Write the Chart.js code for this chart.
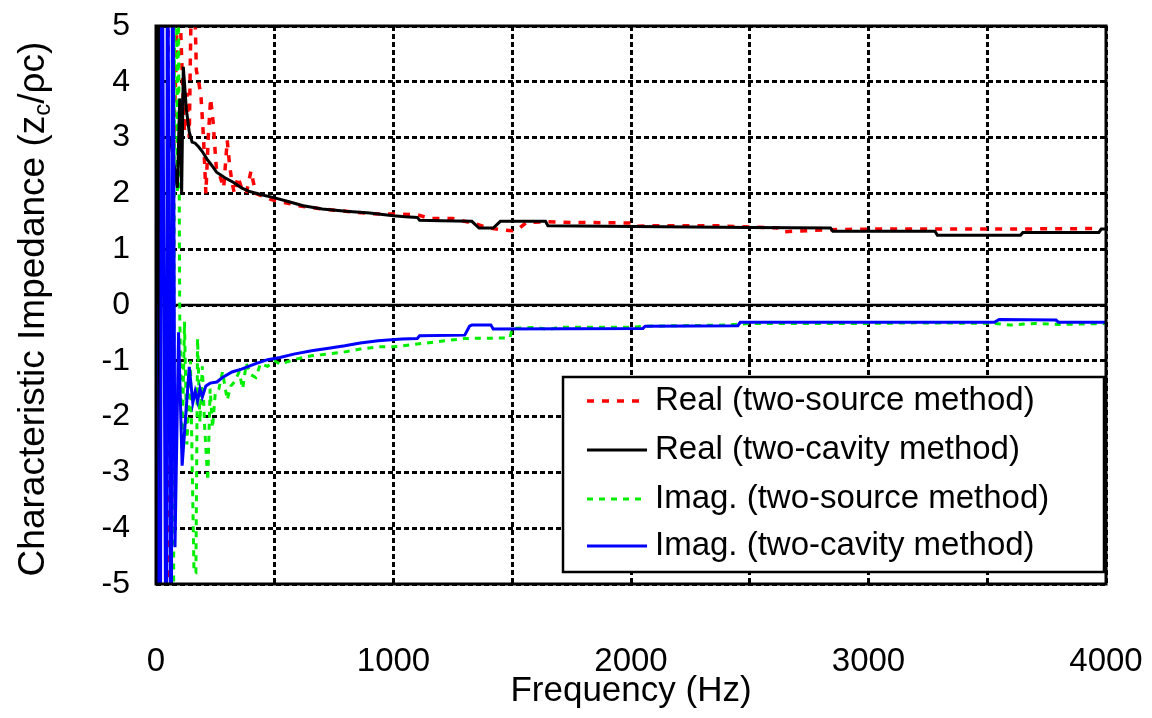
<!DOCTYPE html>
<html>
<head>
<meta charset="utf-8">
<script src="https://cdn.jsdelivr.net/npm/chart.js@4"></script>
<style>
  html, body { margin: 0; padding: 0; background: #fff; }
  #wrap { width: 1152px; height: 718px; position: relative; }
</style>
</head>
<body>
<div id="wrap"><canvas id="zcChart"></canvas></div>
<script>
// Real part, two-source method (red dashed)
const realSrcFreq = [0, 5, 7, 48, 52, 70, 72, 95, 110, 120, 130, 140, 150, 160, 170, 180, 190, 200, 210, 220, 230, 240, 255, 270, 285, 300, 310, 320, 330, 345, 360, 380, 400, 420, 450, 480, 520, 560, 600, 650, 700, 750, 800, 850, 900, 950, 1000, 1100, 1150, 1250, 1350, 1400, 1450, 1500, 1530, 1560, 1650, 1750, 2000, 2020, 2100, 2360, 2620, 2630, 2830, 3000, 3500, 3960];
const realSrcVal = [0.1, 0.3, -6, -6, 6, 6, 2.5, 6, 4.2, 3.1, 3.8, 3.0, 6, 6, 4.2, 4.0, 3.7, 3.0, 2.0, 3.0, 3.7, 3.3, 2.4, 2.3, 2.1, 2.95, 2.5, 2.2, 2.0, 2.3, 2.1, 2.0, 2.4, 2.0, 1.95, 1.9, 1.85, 1.82, 1.78, 1.75, 1.72, 1.7, 1.68, 1.66, 1.64, 1.63, 1.63, 1.62, 1.55, 1.55, 1.45, 1.38, 1.35, 1.33, 1.38, 1.48, 1.49, 1.48, 1.47, 1.41, 1.42, 1.42, 1.38, 1.31, 1.35, 1.36, 1.36, 1.37];

// Real part, two-cavity method (black)
const realCavFreq = [0, 4, 12, 20, 26, 60, 90, 100, 108, 115, 128, 140, 152, 165, 180, 195, 214, 235, 255, 290, 325, 360, 390, 440, 500, 560, 620, 700, 800, 900, 1000, 1050, 1100, 1110, 1200, 1330, 1360, 1420, 1450, 1640, 1650, 2500, 2840, 2850, 3280, 3290, 3640, 3650, 3970, 3980, 4000];
const realCavVal = [0, 9, -9, 9, 3, 3, 2.1, 3.7, 2.0, 4.27, 3.5, 3.1, 2.92, 2.9, 2.83, 2.75, 2.62, 2.5, 2.38, 2.28, 2.2, 2.1, 2.04, 1.98, 1.92, 1.85, 1.78, 1.72, 1.68, 1.65, 1.6, 1.58, 1.57, 1.52, 1.51, 1.5, 1.38, 1.38, 1.5, 1.5, 1.42, 1.39, 1.38, 1.32, 1.32, 1.25, 1.25, 1.3, 1.3, 1.36, 1.36];

// Imaginary part, two-source method (green dashed)
const imagSrcFreq = [0, 6, 8, 74, 78, 86, 90, 94, 100, 110, 120, 130, 145, 160, 168, 175, 185, 195, 205, 218, 228, 238, 250, 265, 280, 300, 315, 330, 350, 365, 380, 400, 420, 440, 470, 500, 522, 580, 655, 720, 795, 860, 935, 1000, 1100, 1200, 1300, 1490, 1500, 1600, 1650, 1700, 2000, 2050, 2400, 2500, 3000, 3200, 3530, 3600, 3700, 3800, 4000];
const imagSrcVal = [0, 0.1, -6, -6, 6, 6, 2.0, 6, -0.2, -2.6, -0.3, -2.5, -1.0, -4.8, -4.8, -0.6, -2.1, -1.1, -2.2, -3.15, -1.5, -2.2, -1.56, -1.5, -1.2, -1.7, -1.45, -1.38, -1.2, -1.5, -1.05, -1.25, -1.3, -1.05, -1.1, -1.0, -1.06, -0.98, -0.91, -0.88, -0.84, -0.79, -0.75, -0.75, -0.7, -0.65, -0.6, -0.59, -0.42, -0.4, -0.44, -0.4, -0.4, -0.38, -0.36, -0.33, -0.33, -0.32, -0.33, -0.36, -0.33, -0.35, -0.33];

// Imaginary part, two-cavity method (blue)
const imagCavFreq = [0, 18, 24, 44, 48, 64, 70, 80, 95, 110, 140, 155, 165, 175, 185, 195, 210, 228, 256, 280, 320, 360, 420, 470, 522, 580, 655, 720, 795, 860, 935, 1035, 1100, 1110, 1300, 1320, 1330, 1410, 1420, 2050, 2060, 2450, 2460, 3530, 3550, 3790, 3800, 4000];
const imagCavVal = [0, -9, 9, -9, 9, -9, 9, -4.34, -0.49, -2.88, -1.11, -1.75, -1.55, -1.72, -1.5, -1.65, -1.45, -1.4, -1.38, -1.3, -1.2, -1.15, -1.05, -0.98, -0.94, -0.88, -0.82, -0.78, -0.73, -0.68, -0.64, -0.61, -0.6, -0.55, -0.54, -0.38, -0.36, -0.36, -0.43, -0.42, -0.38, -0.37, -0.31, -0.31, -0.26, -0.27, -0.31, -0.31];

const seriesLabels = ["Real (two-source method)", "Real (two-cavity method)", "Imag. (two-source method)", "Imag. (two-cavity method)"];
const xTicks = [0, 1000, 2000, 3000, 4000];
const yTicks = [5, 4, 3, 2, 1, 0, -1, -2, -3, -4, -5];

const FONT = "Arial, 'Liberation Sans', sans-serif";

function toPoints(xs, ys) {
  return xs.map((x, i) => ({ x: x, y: ys[i] }));
}

// no label overhang, so the plot box sits where the layout padding says
function noOverhang(s) {
  s.paddingTop = 0;
  s.paddingBottom = 0;
  s.paddingLeft = 0;
  s.paddingRight = 0;
}

// zero line, frame, legend box and y title (with subscript c)
const decorPlugin = {
  id: "decor",
  beforeDatasetsDraw(chart) {
    const { ctx, chartArea: a, scales } = chart;
    const y0 = scales.y.getPixelForValue(0);
    ctx.save();
    ctx.strokeStyle = "#000";
    ctx.lineWidth = 2.5;
    ctx.beginPath();
    ctx.moveTo(a.left, y0);
    ctx.lineTo(a.right, y0);
    ctx.stroke();
    ctx.restore();
  },
  afterDraw(chart) {
    const { ctx, chartArea: a } = chart;
    ctx.save();
    ctx.strokeStyle = "#000";
    ctx.lineWidth = 3;
    ctx.strokeRect(a.left, a.top, a.right - a.left, a.bottom - a.top);

    // legend
    const lx = 563, ly = 377, lw = 541, lh = 195;
    ctx.fillStyle = "#fff";
    ctx.fillRect(lx, ly, lw, lh);
    ctx.lineWidth = 2.5;
    ctx.strokeRect(lx, ly, lw, lh);
    const rows = [401, 450, 499, 546];
    chart.data.datasets.forEach((ds, i) => {
      const ry = rows[i];
      ctx.strokeStyle = ds.borderColor;
      ctx.lineWidth = ds.borderWidth;
      ctx.setLineDash(ds.borderDash || []);
      ctx.beginPath();
      ctx.moveTo(587, ry);
      ctx.lineTo(647, ry);
      ctx.stroke();
      ctx.setLineDash([]);
      ctx.fillStyle = "#000";
      ctx.font = "33px " + FONT;
      ctx.textBaseline = "middle";
      ctx.textAlign = "left";
      ctx.fillText(ds.label, 655, ry);
    });

    // y axis title
    ctx.translate(34, 309);
    ctx.rotate(-Math.PI / 2);
    ctx.fillStyle = "#000";
    ctx.textBaseline = "middle";
    ctx.textAlign = "left";
    const big = "37px " + FONT, small = "24px " + FONT;
    const p1 = "Characteristic Impedance (z", p2 = "c", p3 = "/\u03C1c)";
    ctx.font = big;
    const w1 = ctx.measureText(p1).width, w3 = ctx.measureText(p3).width;
    ctx.font = small;
    const w2 = ctx.measureText(p2).width;
    let x = -(w1 + w2 + w3) / 2;
    ctx.font = big;
    ctx.fillText(p1, x, 0);
    x += w1;
    ctx.font = small;
    ctx.fillText(p2, x, 9);
    x += w2;
    ctx.font = big;
    ctx.fillText(p3, x, 0);
    ctx.restore();
  }
};

const ctx = document.getElementById("zcChart").getContext("2d");
new Chart(ctx, {
  type: "line",
  data: {
    datasets: [
      {
        label: seriesLabels[0],
        data: toPoints(realSrcFreq, realSrcVal),
        borderColor: "#ff0000",
        borderWidth: 3.5,
        borderDash: [7, 8],
        order: 4,
      },
      {
        label: seriesLabels[1],
        data: toPoints(realCavFreq, realCavVal),
        borderColor: "#000000",
        borderWidth: 3,
        order: 2,
      },
      {
        label: seriesLabels[2],
        data: toPoints(imagSrcFreq, imagSrcVal),
        borderColor: "#00ee00",
        borderWidth: 3,
        borderDash: [6, 6],
        order: 3,
      },
      {
        label: seriesLabels[3],
        data: toPoints(imagCavFreq, imagCavVal),
        borderColor: "#0000ff",
        borderWidth: 3,
        order: 1,
      },
    ],
  },
  options: {
    responsive: true,
    maintainAspectRatio: false,
    animation: false,
    layout: { padding: { top: 26, right: 46, left: 0, bottom: 0 } },
    elements: { point: { radius: 0 }, line: { tension: 0, fill: false } },
    plugins: { legend: { display: false }, tooltip: { enabled: false } },
    scales: {
      x: {
        type: "linear",
        min: 0,
        max: 4000,
        afterFit: (s) => { s.height = 134; noOverhang(s); },
        afterBuildTicks: (s) => {
          s.ticks = [];
          for (let v = 0; v <= 4000; v += 500) s.ticks.push({ value: v });
        },
        ticks: {
          autoSkip: false,
          maxRotation: 0,
          padding: 58,
          color: "#000",
          font: { family: FONT, size: 33 },
          callback: (v) => (xTicks.includes(v) ? String(v) : ""),
        },
        grid: { color: "#000", lineWidth: 3, drawTicks: false },
        border: { display: false, dash: [5, 3] },
        title: {
          display: true,
          text: "Frequency (Hz)",
          color: "#000",
          font: { family: FONT, size: 35 },
          padding: { top: 0, bottom: 6 },
        },
      },
      y: {
        type: "linear",
        min: -5,
        max: 5,
        afterFit: (s) => { s.width = 156; noOverhang(s); },
        afterBuildTicks: (s) => {
          s.ticks = yTicks.map((v) => ({ value: v }));
        },
        ticks: {
          padding: 26,
          color: "#000",
          font: { family: FONT, size: 32 },
        },
        grid: { color: "#000", lineWidth: 3, drawTicks: false },
        border: { display: false, dash: [5, 3] },
      },
    },
  },
  plugins: [decorPlugin],
});
</script>
</body>
</html>
